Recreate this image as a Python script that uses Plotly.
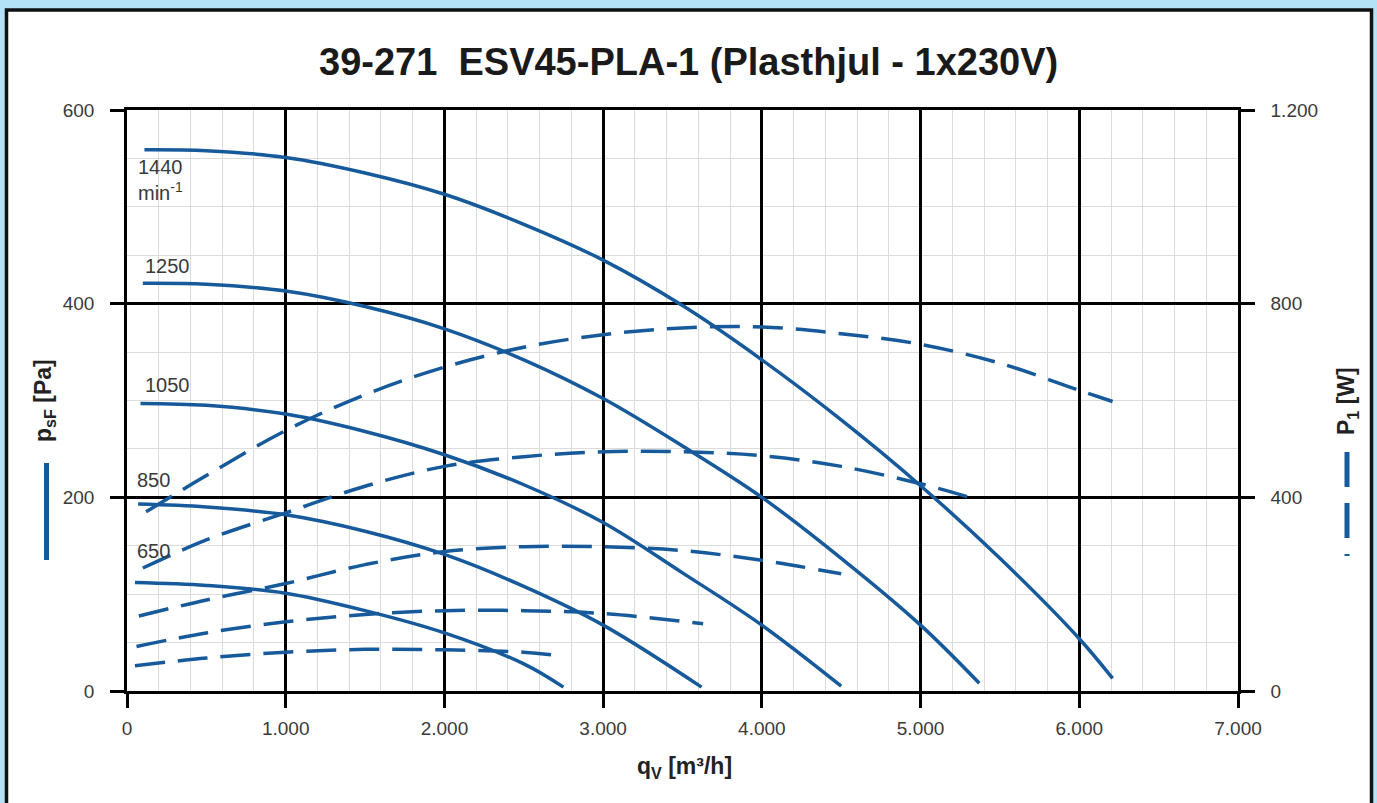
import plotly.graph_objects as go

# ---- data ----
speeds = ["1440", "1250", "1050", "850", "650"]

# static pressure curves psF [Pa] vs qV [m3/h]
q_1440 = [110, 500, 1000, 1500, 2000, 2500, 3000, 3500, 4000, 4500, 5000, 5500, 6000, 6210]
p_1440 = [559, 558, 551, 535, 513, 482, 445, 398, 342, 280, 212, 137, 54, 13]
q_1250 = [100, 500, 1000, 1500, 2000, 2500, 3000, 3500, 4000, 4500, 5000, 5370]
p_1250 = [421, 420, 413, 397, 374, 342, 302, 253, 200, 137, 68, 8]
q_1050 = [85, 500, 1000, 1500, 2000, 2500, 3000, 3500, 4000, 4500]
p_1050 = [297, 295, 286, 268, 244, 213, 174, 122, 68, 5]
q_850 = [70, 500, 1000, 1500, 2000, 2500, 3000, 3620]
p_850 = [193, 190, 182, 165, 141, 108, 68, 4]
q_650 = [50, 500, 1000, 1500, 2000, 2500, 2750]
p_650 = [112, 109, 101, 83, 60, 28, 4]

# power input P1 [W] vs qV [m3/h]
qw_1440 = [120, 500, 1000, 1500, 2000, 2500, 3000, 3500, 4000, 4500, 5000, 5500, 6000, 6210]
w_1440 = [370, 445, 538, 612, 669, 710, 736, 750, 752, 738, 716, 677, 621, 598]
qw_1250 = [100, 500, 1000, 1500, 2000, 2500, 3000, 3500, 4000, 4500, 5000, 5370]
w_1250 = [254, 312, 368, 423, 464, 484, 494, 494, 486, 464, 428, 394]
qw_1050 = [75, 500, 1000, 1500, 2000, 2500, 3000, 3500, 4000, 4500]
w_1050 = [155, 188, 222, 261, 288, 298, 298, 290, 270, 242]
qw_850 = [60, 500, 1000, 1500, 2000, 2500, 3000, 3630]
w_850 = [92, 120, 143, 158, 166, 166, 160, 139]
qw_650 = [50, 500, 1000, 1500, 2000, 2500, 2745]
w_650 = [52, 68, 80, 86, 85, 80, 72]

x_ticks = [0, 1000, 2000, 3000, 4000, 5000, 6000, 7000]
x_ticktext = ["0", "1.000", "2.000", "3.000", "4.000", "5.000", "6.000", "7.000"]
y_ticks = [0, 200, 400, 600]
y2_ticks = [0, 400, 800, 1200]
y2_ticktext = ["0", "400", "800", "1.200"]

# speed labels (data units)
label_x = [57, 100, 100, 50, 50]
label_y = [528, 439, 316, 218, 145]
label_text = ["1440<br>min<sup>-1</sup>", "1250", "1050", "850", "650"]

BLUE = "#175a9c"
FONT = "Liberation Sans, Arial, sans-serif"
TXT = "#3a3a3a"

fig = go.Figure()

pressure = [(q_1440, p_1440), (q_1250, p_1250), (q_1050, p_1050), (q_850, p_850), (q_650, p_650)]
power = [(qw_1440, w_1440), (qw_1250, w_1250), (qw_1050, w_1050), (qw_850, w_850), (qw_650, w_650)]

for name, (qx, py) in zip(speeds, pressure):
    fig.add_trace(go.Scatter(x=qx, y=py, mode="lines", name=name + " psF",
                             line=dict(color=BLUE, width=3.5, shape="spline", smoothing=1.0),
                             yaxis="y", showlegend=False))
for name, (qx, wy) in zip(speeds, power):
    fig.add_trace(go.Scatter(x=qx, y=wy, mode="lines", name=name + " P1",
                             line=dict(color=BLUE, width=3.5, shape="spline", smoothing=1.0,
                                       dash="30px,13px"),
                             yaxis="y2", showlegend=False))

L, R, T, B = 127, 139, 110, 112
W, H = 1377, 803
pw, ph = W - L - R, H - T - B


def px(xp):
    return (xp - L) / pw


def py_(yp):
    return (H - B - yp) / ph


annotations = []
for t, lx, ly in zip(label_text, label_x, label_y):
    annotations.append(dict(x=lx, y=ly, xref="x", yref="y", text=t, showarrow=False,
                            xanchor="left", yanchor="middle", align="left",
                            font=dict(family=FONT, size=20, color=TXT)))

annotations += [
    dict(x=px(688), y=py_(62), xref="paper", yref="paper", showarrow=False,
         text="<b>39-271  ESV45-PLA-1 (Plasthjul - 1x230V)</b>",
         xanchor="center", yanchor="middle",
         font=dict(family=FONT, size=38, color="#1a1a1a")),
    dict(x=px(684), y=py_(767), xref="paper", yref="paper", showarrow=False,
         text="<b>q<sub>V</sub> [m³/h]</b>", xanchor="center", yanchor="middle",
         font=dict(family=FONT, size=23, color="#222222")),
    dict(x=px(44), y=py_(401), xref="paper", yref="paper", showarrow=False,
         text="<b>p<sub>sF</sub> [Pa]</b>", textangle=-90, xanchor="center", yanchor="middle",
         font=dict(family=FONT, size=23, color="#222222")),
    dict(x=px(1347), y=py_(401), xref="paper", yref="paper", showarrow=False,
         text="<b>P<sub>1</sub> [W]</b>", textangle=-90, xanchor="center", yanchor="middle",
         font=dict(family=FONT, size=23, color="#222222")),
]

shapes = [
    # white panel with black frame
    dict(type="rect", xref="paper", yref="paper", x0=px(6.5), x1=px(1371.5), y0=py_(840), y1=py_(10),
         fillcolor="white", line=dict(color="#111111", width=3.5), layer="below"),
    # legend glyph for pressure (solid)
    dict(type="line", xref="paper", yref="paper", x0=px(46.5), x1=px(46.5), y0=py_(463), y1=py_(560),
         line=dict(color=BLUE, width=5)),
    # legend glyph for power (dashed)
    dict(type="line", xref="paper", yref="paper", x0=px(1347), x1=px(1347), y0=py_(452), y1=py_(556),
         line=dict(color=BLUE, width=5, dash="35px,16px")),
]

axis_common = dict(showline=True, linecolor="black", linewidth=2.5,
                   ticks="outside", ticklen=14, tickwidth=2.5, tickcolor="black",
                   tickfont=dict(family=FONT, size=19, color=TXT),
                   zeroline=False)

fig.update_layout(
    width=W, height=H,
    margin=dict(l=L, r=R, t=T, b=B, autoexpand=False),
    paper_bgcolor="#b3e2f6",
    plot_bgcolor="white",
    showlegend=False,
    annotations=annotations,
    shapes=shapes,
    xaxis=dict(range=[0, 7000], tickvals=x_ticks, ticktext=x_ticktext,
               showgrid=True, gridcolor="black", gridwidth=2.5, mirror=True,
               ticklabelstandoff=4,
               minor=dict(dtick=200, showgrid=True, gridcolor="#dcdcdc", gridwidth=1, ticks=""),
               **axis_common),
    yaxis=dict(range=[0, 600], tickvals=y_ticks,
               showgrid=True, gridcolor="black", gridwidth=2.5, mirror=True,
               ticklabelstandoff=12,
               minor=dict(dtick=50, showgrid=True, gridcolor="#dcdcdc", gridwidth=1, ticks=""),
               **axis_common),
    yaxis2=dict(range=[0, 1200], tickvals=y2_ticks, ticktext=y2_ticktext,
                overlaying="y", side="right", showgrid=False,
                ticklabelstandoff=12,
                **axis_common),
)

fig.write_html("out.html", config={"displayModeBar": False},
               post_script="document.body.style.margin='0';document.body.style.overflow='hidden';")
